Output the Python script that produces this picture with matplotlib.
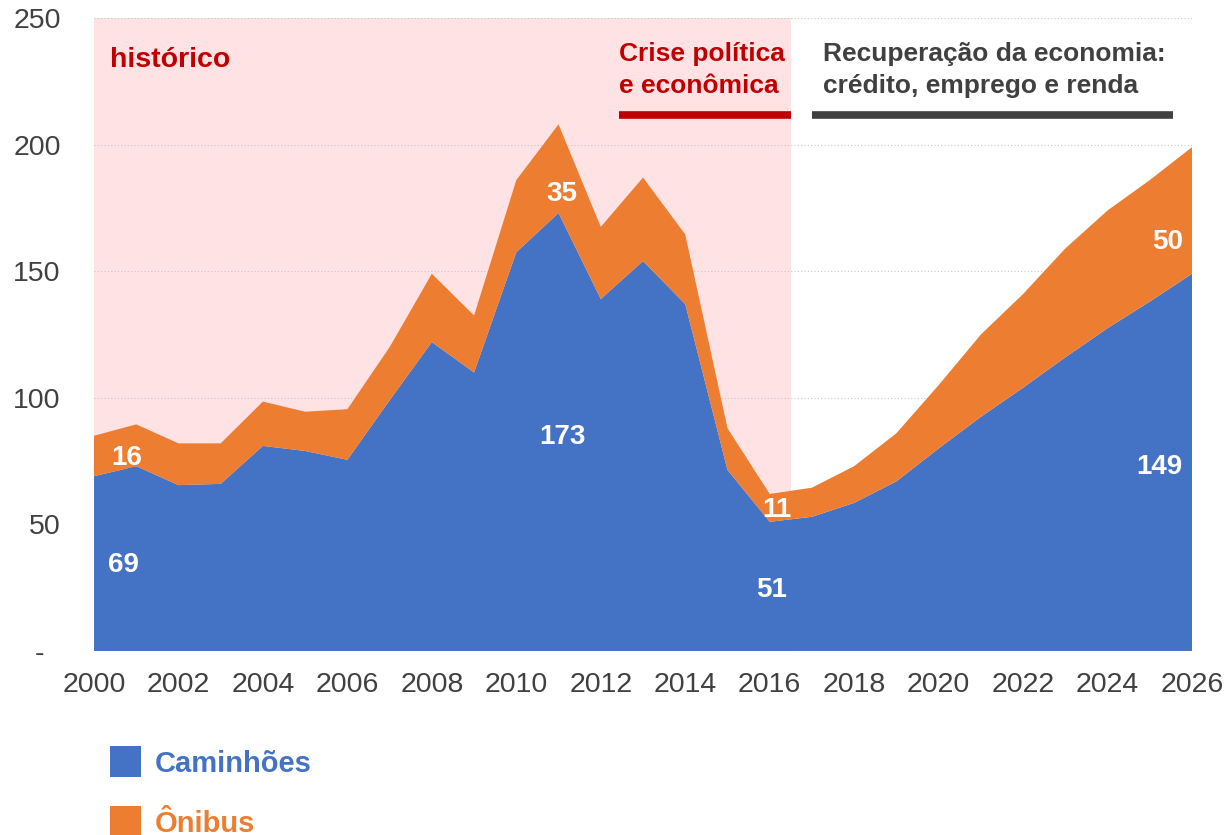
import matplotlib
matplotlib.use("Agg")
import matplotlib.pyplot as plt
from matplotlib.patches import Rectangle

plt.rcParams['font.family'] = ['Liberation Sans', 'DejaVu Sans']

# dados (mil unidades)
anos = list(range(2000, 2027))
caminhoes = [69, 73, 65.5, 66, 81, 79, 75.5, 99, 122, 110, 157.5, 173, 139, 154, 137,
             71.5, 51, 53, 58.5, 67, 80, 92.5, 104, 116, 127.5, 138, 149]
total = [85, 89.5, 82, 82, 98.5, 94.5, 95.5, 120, 149, 132.5, 186, 208, 167.5, 187, 164.5,
         88, 62, 64.5, 73, 86, 105, 125, 141, 159, 174, 186, 199]
onibus = [t - c for t, c in zip(total, caminhoes)]
series = ["Caminhões", "Ônibus"]
cores = ["#4472C4", "#ED7D31"]
yticks = [0, 50, 100, 150, 200, 250]
ytick_labels = ["-  ", "50", "100", "150", "200", "250"]
xticks = list(range(2000, 2027, 2))

fig = plt.figure(figsize=(12.27, 8.35), dpi=100)
ax = fig.add_axes([0.0766, 0.2204, 0.8949, 0.758])

# fundo rosa do periodo historico
ax.axvspan(2000, 2016.5, color="#FEE2E4", zorder=0, linewidth=0)
ax.stackplot(anos, caminhoes, onibus, colors=cores, linewidth=0, zorder=2)

ax.set_xlim(2000, 2026)
ax.set_ylim(0, 250)
ax.set_yticks(yticks)
ax.set_yticklabels(ytick_labels)
ax.set_xticks(xticks)
ax.tick_params(axis="both", length=0, labelsize=20.5, colors="#404040")
ax.tick_params(axis="y", pad=24)
ax.tick_params(axis="x", pad=15)
ax.grid(axis="y", linestyle=(0, (1, 2)), color="#C8C8C8", linewidth=0.8, zorder=1)
ax.set_axisbelow(True)
for s in ax.spines.values():
    s.set_visible(False)

# rotulos de dados
def rot(x, y, v, **kw):
    ax.text(x, y, str(int(round(v))), color="white", fontsize=20, fontweight="bold",
            va="center", zorder=5, **kw)

rot(2000.69, 34.1, caminhoes[0], ha="center")
rot(2000.78, 76.4, onibus[0], ha="center")
rot(2011.1, 84.4, caminhoes[11], ha="center")
rot(2011.07, 180.6, onibus[11], ha="center")
rot(2016.18, 55.6, onibus[16], ha="center")
rot(2016.04, 23.9, caminhoes[16], ha="center")
rot(2025.76, 72.5, caminhoes[26], ha="right")
rot(2025.8, 161.6, onibus[26], ha="right")

# anotacoes de periodo
vermelho = "#C00000"
cinza = "#404040"
ax.text(2000.38, 230.8, "histórico", color=vermelho, fontsize=20.5, fontweight="bold", va="baseline")
ax.text(2012.44, 233, "Crise política", color=vermelho, fontsize=19, fontweight="bold", va="baseline")
ax.text(2012.44, 220.5, "e econômica", color=vermelho, fontsize=19, fontweight="bold", va="baseline")
ax.plot([2012.44, 2016.51], [211.7, 211.7], color=vermelho, linewidth=5.5, solid_capstyle="butt", zorder=5)
ax.text(2017.27, 233, "Recuperação da economia:", color=cinza, fontsize=19, fontweight="bold", va="baseline")
ax.text(2017.27, 220.5, "crédito, emprego e renda", color=cinza, fontsize=19, fontweight="bold", va="baseline")
ax.plot([2016.99, 2025.56], [211.7, 211.7], color=cinza, linewidth=5.5, solid_capstyle="butt", zorder=5)

# legenda manual
W, H = 1227, 835
for i, (nome, cor) in enumerate(zip(series, cores)):
    top = 746 + i * 60
    fig.add_artist(Rectangle((110 / W, 1 - (top + 31) / H), 31 / W, 31 / H,
                             transform=fig.transFigure, color=cor, linewidth=0))
    fig.text(155 / W, 1 - (top + 26) / H, nome, color=cor, fontsize=21,
             fontweight="bold", va="baseline")

fig.savefig("out.png", dpi=100)
